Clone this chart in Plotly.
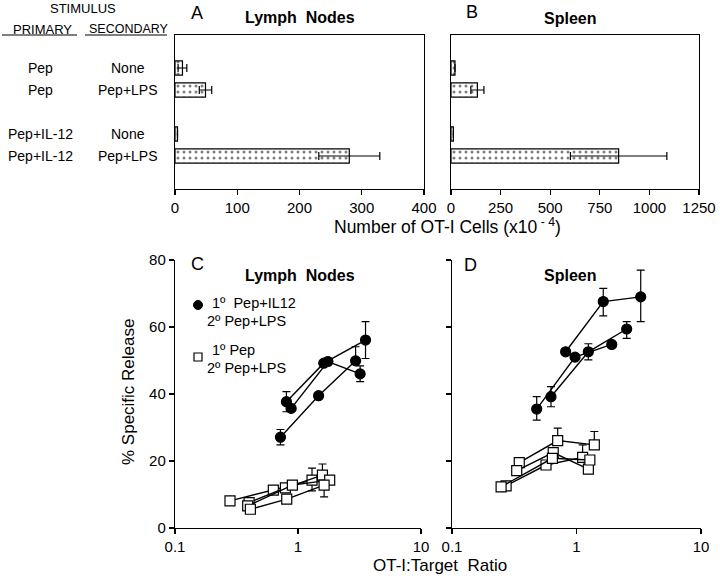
import plotly.graph_objects as go

# ---------------- data ----------------
row_pos = [1, 2, 4, 5]
primary = ["Pep", "Pep", "Pep+IL-12", "Pep+IL-12"]
secondary = ["None", "Pep+LPS", "None", "Pep+LPS"]

ln_cells = [12, 49, 4, 280]
ln_err = [7, 10, 0, 49]
sp_cells = [20, 133, 12, 845]
sp_err = [0, 33, 0, 243]

# Panel C (Lymph nodes) - Pep+IL12 primed (filled circles)
c_il12_x = [[0.72, 1.47, 2.94], [0.805, 1.62, 3.54], [0.88, 1.75, 3.2]]
c_il12_y = [[27.1, 39.5, 49.9], [37.7, 49.2, 56.1], [35.7, 49.7, 46.0]]
c_il12_up = [[2.3, 0, 4.2], [3.0, 0, 5.5], [0, 0, 2.4]]
c_il12_dn = [[2.3, 0, 0], [3.0, 0, 5.5], [0, 0, 2.3]]
# Panel C - Pep primed (open squares)
c_pep_x = [[0.28, 0.63, 1.30], [0.40, 0.79, 1.58], [0.39, 0.90, 1.81], [0.41, 0.81, 1.63]]
c_pep_y = [[8.1, 11.3, 14.3], [7.6, 12.0, 15.8], [6.6, 12.8, 14.3], [5.6, 8.6, 12.8]]
c_pep_up = [[0, 0, 3.6], [0, 0, 3.3], [0, 0, 0], [0, 0, 0]]
c_pep_dn = [[0, 0, 3.2], [0, 0, 0], [0, 0, 0], [0, 0, 3.5]]

# Panel D (Spleen)
d_il12_x = [[0.818, 1.64, 3.28], [0.479, 0.973, 1.92], [0.624, 1.245, 2.53]]
d_il12_y = [[52.6, 67.6, 69.0], [35.5, 51.0, 54.8], [39.2, 52.6, 59.4]]
d_il12_up = [[0, 3.9, 8.0], [3.7, 0, 0], [3.0, 2.4, 2.2]]
d_il12_dn = [[0, 4.3, 7.4], [3.3, 0, 0], [3.0, 2.4, 2.8]]
d_pep_x = [[0.347, 0.706, 1.39], [0.331, 0.65, 1.245], [0.272, 0.569, 1.12], [0.248, 0.64, 1.28]]
d_pep_y = [[19.5, 26.1, 24.8], [17.1, 22.5, 17.6], [12.6, 18.8, 21.1], [12.3, 20.8, 20.3]]
d_pep_up = [[0, 3.7, 4.0], [0, 0, 0], [0, 0, 3.7], [0, 0, 0]]
d_pep_dn = [[0, 0, 0], [0, 0, 0], [0, 0, 0], [0, 0, 0]]

ratio_ticks = [0.1, 1, 10]
ratio_ticktext = ["0.1", "1", "10"]

# ---------------- figure ----------------
W, H = 720, 582
def px(x):
    return x / W
def py(y):
    return 1 - y / H

FONT = "Arial, Liberation Sans, Helvetica, sans-serif"
fig = go.Figure()

bar_marker = dict(color="white", line=dict(color="black", width=1.2),
                  pattern=dict(shape=".", fgcolor="black", bgcolor="white",
                               size=6, solidity=0.2))

for xa, ya, vals, errs in [("x", "y", ln_cells, ln_err), ("x2", "y2", sp_cells, sp_err)]:
    fig.add_trace(go.Bar(
        x=vals, y=row_pos, orientation="h", width=0.64,
        marker=bar_marker,
        error_x=dict(type="data", array=errs, color="black", thickness=1.2, width=4),
        xaxis=xa, yaxis=ya, showlegend=False, hoverinfo="skip"))

def add_series(xs, ys, ups, dns, xa, ya, symbol, fill):
    for x, y, u, d in zip(xs, ys, ups, dns):
        fig.add_trace(go.Scatter(
            x=x, y=y, mode="lines+markers",
            line=dict(color="black", width=1.4),
            marker=dict(symbol=symbol, size=10, color=fill,
                        line=dict(color="black", width=1.2)),
            error_y=dict(type="data", symmetric=False, array=u, arrayminus=d,
                         color="black", thickness=1.2, width=4),
            xaxis=xa, yaxis=ya, showlegend=False, hoverinfo="skip"))

add_series(c_pep_x, c_pep_y, c_pep_up, c_pep_dn, "x3", "y3", "square", "white")
add_series(c_il12_x, c_il12_y, c_il12_up, c_il12_dn, "x3", "y3", "circle", "black")
add_series(d_pep_x, d_pep_y, d_pep_up, d_pep_dn, "x4", "y4", "square", "white")
add_series(d_il12_x, d_il12_y, d_il12_up, d_il12_dn, "x4", "y4", "circle", "black")

axcommon = dict(showline=True, linecolor="black", linewidth=1.2, showgrid=False,
                zeroline=False, ticks="outside", ticklen=5, tickwidth=1.2,
                tickcolor="black", automargin=False,
                tickfont=dict(size=15, color="black", family=FONT))

ydomA = [py(189), py(35)]
fig.update_layout(
    xaxis=dict(**axcommon, domain=[px(175), px(424)], range=[0, 400], dtick=100,
               mirror=True, anchor="y"),
    yaxis=dict(**{**axcommon, "ticks": ""}, domain=ydomA, range=[6.5, -0.5],
               showticklabels=False, mirror=True, anchor="x"),
    xaxis2=dict(**axcommon, domain=[px(451), px(699)], range=[0, 1250], dtick=250,
                mirror=True, anchor="y2"),
    yaxis2=dict(**{**axcommon, "ticks": ""}, domain=ydomA, range=[6.5, -0.5],
                showticklabels=False, mirror=True, anchor="x2"),
    xaxis3=dict(**axcommon, domain=[px(175), px(421)], type="log", range=[-1, 1],
                tickvals=ratio_ticks, ticktext=ratio_ticktext, anchor="y3"),
    yaxis3=dict(**axcommon, domain=[py(528), py(260)], range=[0, 80], dtick=20,
                anchor="x3"),
    xaxis4=dict(**axcommon, domain=[px(452), px(701)], type="log", range=[-1, 1],
                tickvals=ratio_ticks, ticktext=ratio_ticktext, anchor="y4"),
    yaxis4=dict(**axcommon, domain=[py(528), py(260)], range=[0, 80], dtick=20,
                showticklabels=False, anchor="x4"),
    width=W, height=H, margin=dict(l=0, r=0, t=0, b=0, pad=0, autoexpand=False),
    plot_bgcolor="white", paper_bgcolor="white",
    font=dict(family=FONT, color="black", size=13),
    barmode="overlay", hovermode=False,
)

ann = []
def text(x, y, s, size=13, bold=False, xanchor="center", angle=0, yref="paper", yv=None):
    ann.append(dict(x=px(x), y=(py(y) if yref == "paper" else yv), xref="paper", yref=yref,
                    text=(f"<b>{s}</b>" if bold else s), showarrow=False,
                    xanchor=xanchor, yanchor="middle", textangle=angle,
                    font=dict(size=size, family=FONT, color="black")))

text(83, 9, "STIMULUS", 13)
text(42, 29, "PRIMARY", 13)
text(129, 29, "SECONDARY", 12.5)
for p, s, pos in zip(primary, secondary, row_pos):
    text(40, 0, p, 14, yref="y", yv=pos)
    text(128, 0, s, 14, yref="y", yv=pos)

text(197, 13, "A", 18)
text(300, 17, "Lymph\u00a0 Nodes", 16, bold=True)
text(472, 12, "B", 18)
text(570, 18, "Spleen", 16, bold=True)
text(447, 226, "Number of OT-I Cells (x10<sup> - 4</sup>)", 17.5)

text(197, 264, "C", 18)
text(300, 275, "Lymph\u00a0 Nodes", 16, bold=True)
text(470, 265, "D", 18)
text(570, 275, "Spleen", 16, bold=True)
text(128, 392, "% Specific Release", 17, angle=-90)
text(440, 565, "OT-I:Target\u00a0 Ratio", 17)

text(210, 303, "1º\u00a0 Pep+IL12", 14.5, xanchor="left")
text(205, 321, "2º Pep+LPS", 14.5, xanchor="left")
text(210, 350, "1º Pep", 14.5, xanchor="left")
text(205, 368, "2º Pep+LPS", 14.5, xanchor="left")

fig.update_layout(annotations=ann)

shapes = [
    dict(type="line", xref="paper", yref="paper", x0=px(2), x1=px(77), y0=py(35), y1=py(35),
         line=dict(color="black", width=1.2)),
    dict(type="line", xref="paper", yref="paper", x0=px(85), x1=px(167), y0=py(35), y1=py(35),
         line=dict(color="black", width=1.2)),
    dict(type="circle", xref="paper", yref="paper", x0=px(193.5), x1=px(202.5),
         y0=py(309.5), y1=py(300.5), fillcolor="black", line=dict(color="black", width=1)),
    dict(type="rect", xref="paper", yref="paper", x0=px(194), x1=px(202),
         y0=py(361), y1=py(353), fillcolor="white", line=dict(color="black", width=1.2)),
]
fig.update_layout(shapes=shapes)

fig.write_html("out.html", config={"displayModeBar": False, "staticPlot": True},
               post_script="document.body.style.margin='0';")
